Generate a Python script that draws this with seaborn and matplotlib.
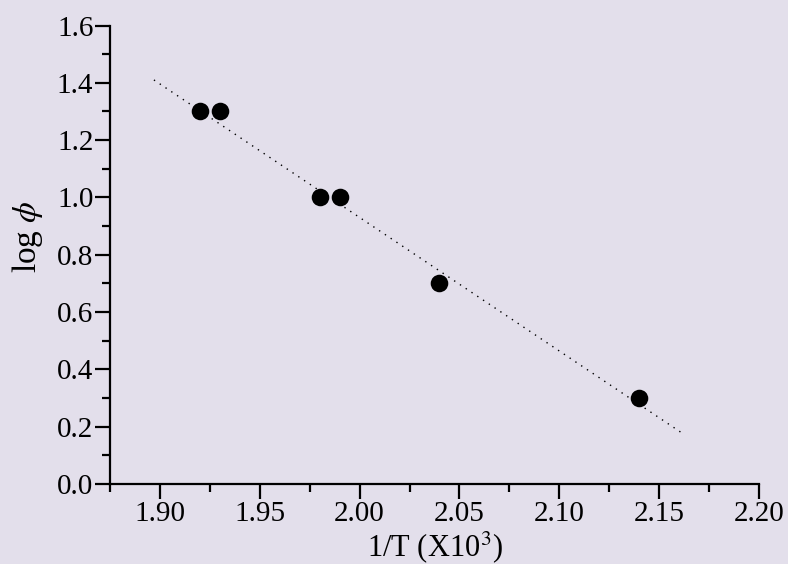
import matplotlib
matplotlib.use("Agg")
import matplotlib.pyplot as plt
import seaborn as sns
import pandas as pd
from matplotlib.ticker import MultipleLocator, FormatStrFormatter

inv_T = [1.92, 1.93, 1.98, 1.99, 2.04, 2.14]
log_phi = [1.30, 1.30, 1.00, 1.00, 0.70, 0.30]
fit_x = [1.897, 2.161]
fit_y = [1.41, 0.18]

bg = "#e3dfeb"
sns.set_theme(style="ticks")
plt.rcParams["font.family"] = ["Liberation Serif", "DejaVu Serif"]
plt.rcParams["mathtext.fontset"] = "stix"
plt.rcParams["text.color"] = "black"
plt.rcParams["axes.labelcolor"] = "black"

df = pd.DataFrame({"x": inv_T, "y": log_phi})
fit = pd.DataFrame({"x": fit_x, "y": fit_y})

fig = plt.figure(figsize=(7.88, 5.64), dpi=100, facecolor=bg)
ax = fig.add_axes([110/788, 1-484/564, (759-110)/788, (484-25.5)/564])
ax.set_facecolor(bg)

sns.lineplot(data=fit, x="x", y="y", ax=ax, color="black", lw=1.0,
             linestyle=(0, (1, 4)))
sns.scatterplot(data=df, x="x", y="y", ax=ax, color="black", s=160,
                edgecolor="black", linewidth=0, zorder=3)

ax.set_xlim(1.875, 2.20)
ax.set_ylim(0, 1.6)
ax.xaxis.set_major_locator(MultipleLocator(0.05))
ax.xaxis.set_minor_locator(MultipleLocator(0.025))
ax.yaxis.set_major_locator(MultipleLocator(0.2))
ax.yaxis.set_minor_locator(MultipleLocator(0.1))
ax.xaxis.set_major_formatter(FormatStrFormatter("%.2f"))
ax.yaxis.set_major_formatter(FormatStrFormatter("%.1f"))

for s in ["top", "right"]:
    ax.spines[s].set_visible(False)
for s in ["left", "bottom"]:
    ax.spines[s].set_linewidth(1.6)
    ax.spines[s].set_color("black")

ax.tick_params(which="major", direction="out", length=11, width=1.6,
               labelsize=21, colors="black", pad=1)
ax.tick_params(which="minor", direction="out", length=6, width=1.6,
               colors="black")

ax.set_xlabel("1/T (X10$^{3}$)", fontsize=22)
ax.xaxis.set_label_coords(0.5, -0.098)
ax.set_ylabel("log $\\phi$", fontsize=24)
ax.yaxis.set_label_coords(-0.10, 0.54)

fig.savefig("out.png", dpi=100, facecolor=bg)
